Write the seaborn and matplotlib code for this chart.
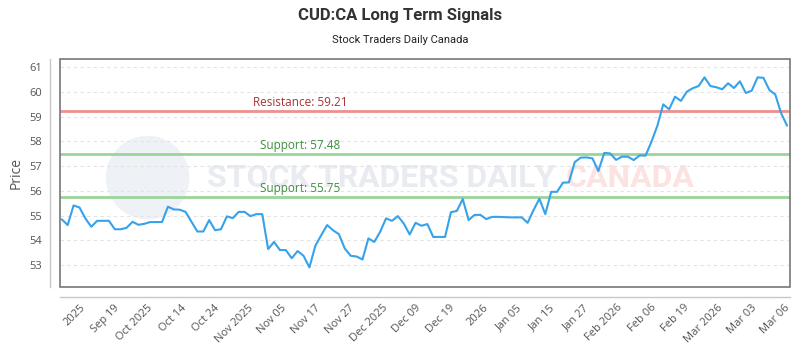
import numpy as np
import pandas as pd
import seaborn as sns
from matplotlib import pyplot as plt
from matplotlib.patches import Rectangle, Ellipse

# daily closes
prices = [
    54.85, 54.62, 55.41, 55.33, 54.89, 54.55, 54.79, 54.79, 54.79, 54.45,
    54.45, 54.51, 54.75, 54.63, 54.67, 54.74, 54.74, 54.74, 55.36, 55.25,
    55.24, 55.15, 54.75, 54.36, 54.36,
    54.82, 54.41, 54.45, 54.97, 54.90, 55.15, 55.15, 54.98, 55.06, 55.06,
    53.65, 53.94, 53.61, 53.61, 53.28, 53.57, 53.38, 52.91, 53.78, 54.21,
    54.62, 54.41, 54.25, 53.67,
    53.38, 53.35, 53.23, 54.08, 53.94, 54.35, 54.89, 54.79, 54.98, 54.68,
    54.24, 54.71, 54.59, 54.66, 54.14, 54.14, 54.14, 55.14, 55.19, 55.67,
    54.82, 55.03, 55.03, 54.86, 54.95, 54.95,
    54.94, 54.93, 54.93, 54.93, 54.71, 55.22, 55.68, 55.06, 55.96, 55.96,
    56.33, 56.34, 57.16, 57.34, 57.35, 57.31, 56.80, 57.53, 57.51, 57.25,
    57.38, 57.38, 57.24, 57.43,
    57.42, 57.98, 58.62, 59.49, 59.29, 59.80, 59.63, 60.00, 60.14, 60.23,
    60.58, 60.23, 60.18, 60.10, 60.34, 60.15, 60.42, 59.95, 60.04, 60.58,
    60.56, 60.07, 59.89, 59.13, 58.63,
]

tick_labels = [
    "2025", "Sep 19", "Oct 2025", "Oct 14", "Oct 24", "Nov 2025", "Nov 05",
    "Nov 17", "Nov 27", "Dec 2025", "Dec 09", "Dec 19", "2026", "Jan 05",
    "Jan 15", "Jan 27", "Feb 2026", "Feb 06", "Feb 19", "Mar 2026", "Mar 03",
    "Mar 06",
]

resistance = 59.21
supports = [57.48, 55.75]

df = pd.DataFrame({"day": np.arange(len(prices)), "price": prices})

sns.set_theme(style="white")
plt.rcParams["font.family"] = ["Open Sans", "DejaVu Sans"]

fig = plt.figure(figsize=(8, 3.5), dpi=100)
ax = fig.add_axes([0.075, 0.18, 0.9125, 0.6514])

# watermark
ax.add_patch(Ellipse((0.12, 0.48), 82 / 730, 82 / 228, transform=ax.transAxes,
                     color="#eef1f6", zorder=0))
ax.text(0.678, 0.48, "STOCK TRADERS DAILY", transform=ax.transAxes, ha="right",
        va="center", fontsize=23, fontweight="bold", color="#e8ebf0",
        family=["Roboto", "DejaVu Sans"], zorder=0.5)
ax.text(0.692, 0.48, "CANADA", transform=ax.transAxes, ha="left", va="center",
        fontsize=23, fontweight="bold", color="#fde2e2",
        family=["Roboto", "DejaVu Sans"], zorder=0.5)

for v in range(53, 62):
    ax.axhline(v, color="#e3e3e3", linestyle=(0, (3, 3)), linewidth=0.8, zorder=1)

ax.axhline(resistance, color="#ef8f8f", linewidth=2, zorder=2)
ax.text(0.329, resistance + 0.08, f"Resistance: {resistance}", transform=ax.get_yaxis_transform(),
        ha="center", va="bottom", fontsize=8.5, color="#a83232", zorder=3)
for s in supports:
    ax.axhline(s, color="#9ad49a", linewidth=2, zorder=2)
    ax.text(0.329, s + 0.08, f"Support: {s}", transform=ax.get_yaxis_transform(),
            ha="center", va="bottom", fontsize=8.5, color="#3e8e3e", zorder=3)

sns.lineplot(data=df, x="day", y="price", ax=ax, color="#36a2eb", linewidth=1.5, zorder=4)

# offset spines first: moving a spine rebuilds the ticks
sns.despine(ax=ax, offset=7)
for side in ["left", "bottom"]:
    ax.spines[side].set_color("#c8c8c8")
    ax.spines[side].set_linewidth(1)

ax.set_xlim(-0.3, len(prices) - 0.5)
ax.set_ylim(52.12, 61.32)
ax.set_yticks(range(53, 62))
ax.set_xticks(np.linspace(3.1, 122.6, len(tick_labels)))
ax.set_xticklabels(tick_labels, rotation=45, ha="right", rotation_mode="anchor")
ax.tick_params(axis="both", length=0, labelsize=8, colors="#555555")
ax.tick_params(axis="y", pad=6)
ax.tick_params(axis="x", pad=4)
ax.set_xlabel("")
ax.set_ylabel("Price", fontsize=10, color="#555555", labelpad=4)

ax.add_patch(Rectangle((0, 0), 1, 1, transform=ax.transAxes, fill=False,
                       edgecolor="#777777", linewidth=1.2, zorder=5, clip_on=False))

fig.text(0.5, 0.955, "CUD:CA Long Term Signals", ha="center", va="center",
         fontsize=12, fontweight="bold", color="#333333",
         family=["Roboto", "DejaVu Sans"])
fig.text(0.5, 0.885, "Stock Traders Daily Canada", ha="center", va="center",
         fontsize=8, color="#222222", family=["Roboto", "DejaVu Sans"])

fig.savefig("out.png", dpi=100)
plt.close(fig)
